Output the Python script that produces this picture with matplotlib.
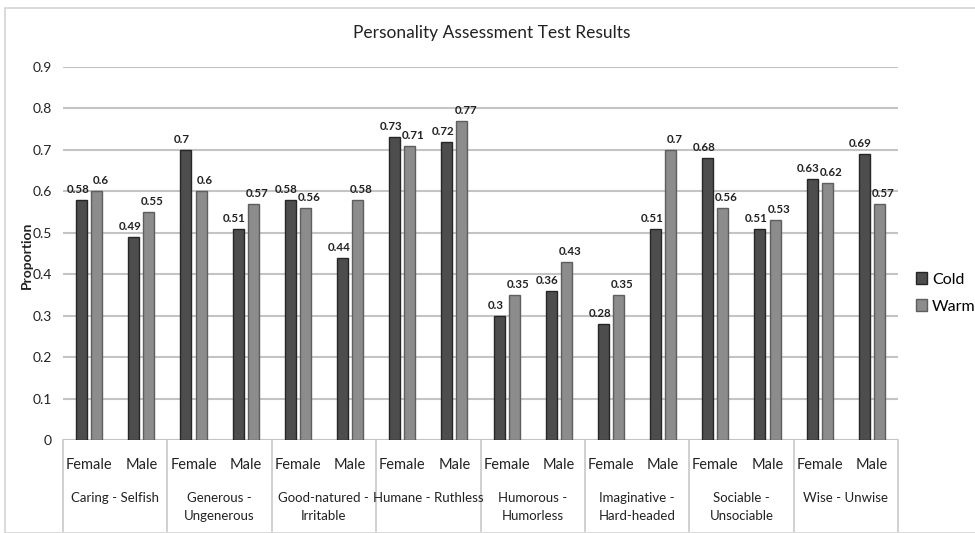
import numpy as np
import matplotlib
matplotlib.use('Agg')
from matplotlib import pyplot as plt
from matplotlib.patches import Rectangle, Patch
import matplotlib.transforms as mtransforms

plt.rcParams['font.family'] = ['Lato', 'DejaVu Sans']

# 数据
traits = ['Caring - Selfish', 'Generous -\nUngenerous', 'Good-natured -\nIrritable',
          'Humane - Ruthless', 'Humorous -\nHumorless', 'Imaginative -\nHard-headed',
          'Sociable -\nUnsociable', 'Wise - Unwise']
genders = ['Female', 'Male']
cold = [0.58, 0.49, 0.7, 0.51, 0.58, 0.44, 0.73, 0.72,
        0.3, 0.36, 0.28, 0.51, 0.68, 0.51, 0.63, 0.69]
warm = [0.6, 0.55, 0.6, 0.57, 0.56, 0.58, 0.71, 0.77,
        0.35, 0.43, 0.35, 0.7, 0.56, 0.53, 0.62, 0.57]
yticks = [0, 0.1, 0.2, 0.3, 0.4, 0.5, 0.6, 0.7, 0.8, 0.9]

W, H = 975, 533
fig = plt.figure(figsize=(W / 100, H / 100), dpi=100)

# 外框
fig.patches.append(Rectangle((5 / W, 0), 1, 1 - 8 / H, transform=fig.transFigure,
                             fill=False, edgecolor='#d4d4d4', linewidth=1.2))

ax = fig.add_axes([63 / W, (H - 440) / H, (898 - 63) / W, (440 - 67) / H])
x = np.arange(len(cold))
bw = 0.21
off = 0.145

for y in yticks:
    ax.axhline(y, color='#c4c4c4', linewidth=1.5, zorder=0)

ax.bar(x - off, cold, bw, color='#4d4d4d', edgecolor='#262626', linewidth=1, zorder=2)
ax.bar(x + off, warm, bw, color='#8c8c8c', edgecolor='#5e5e5e', linewidth=1, zorder=2)

for xi, v in zip(x, cold):
    ax.text(xi - off - 0.07, v + 0.012, f'{v:g}', ha='center', va='bottom', fontsize=8.3,
            fontweight='bold', color='#222222')
for xi, v in zip(x, warm):
    ax.text(xi + off + 0.07, v + 0.012, f'{v:g}', ha='center', va='bottom', fontsize=8.3,
            fontweight='bold', color='#222222')

ax.set_xlim(-0.5, len(cold) - 0.5)
ax.set_ylim(0, 0.9)
ax.set_yticks(yticks)
ax.set_yticklabels([f'{y:g}' for y in yticks], fontsize=10, color='#222222')
ax.set_xticks(x)
ax.set_xticklabels(genders * len(traits), fontsize=10.5, color='#222222')
ax.tick_params(axis='both', length=0)
ax.tick_params(axis='x', pad=13)
ax.tick_params(axis='y', pad=8)
for s in ax.spines.values():
    s.set_visible(False)

trans = mtransforms.blended_transform_factory(ax.transData, ax.transAxes)
for i in range(len(traits) + 1):
    ax.plot([i * 2 - 0.5, i * 2 - 0.5], [0, -0.245], transform=trans,
            color='#c8c8c8', linewidth=1.2, clip_on=False)
for i, t in enumerate(traits):
    ax.text(i * 2 + 0.5, -0.14, t, transform=trans, ha='center', va='top',
            fontsize=9.5, color='#222222', linespacing=1.6)

fig.text(27 / W, 1 - 255 / H, 'Proportion', rotation=90, ha='center', va='center',
         fontsize=10, fontweight='bold', color='#222222')

fig.text(492 / W, 1 - 33 / H, 'Personality Assessment Test Results', ha='center',
         va='center', fontsize=12.5, color='#222222')

handles = [Patch(facecolor='#4d4d4d', edgecolor='#262626'),
           Patch(facecolor='#8c8c8c', edgecolor='#5e5e5e')]
fig.legend(handles, ['Cold', 'Warm'], loc='center left', bbox_to_anchor=(916 / W, 1 - 293 / H),
           frameon=False, fontsize=11.5, handlelength=0.7, handleheight=0.7,
           handletextpad=0.3, labelspacing=0.8, borderpad=0, borderaxespad=0)

fig.savefig('out.png', dpi=100)
